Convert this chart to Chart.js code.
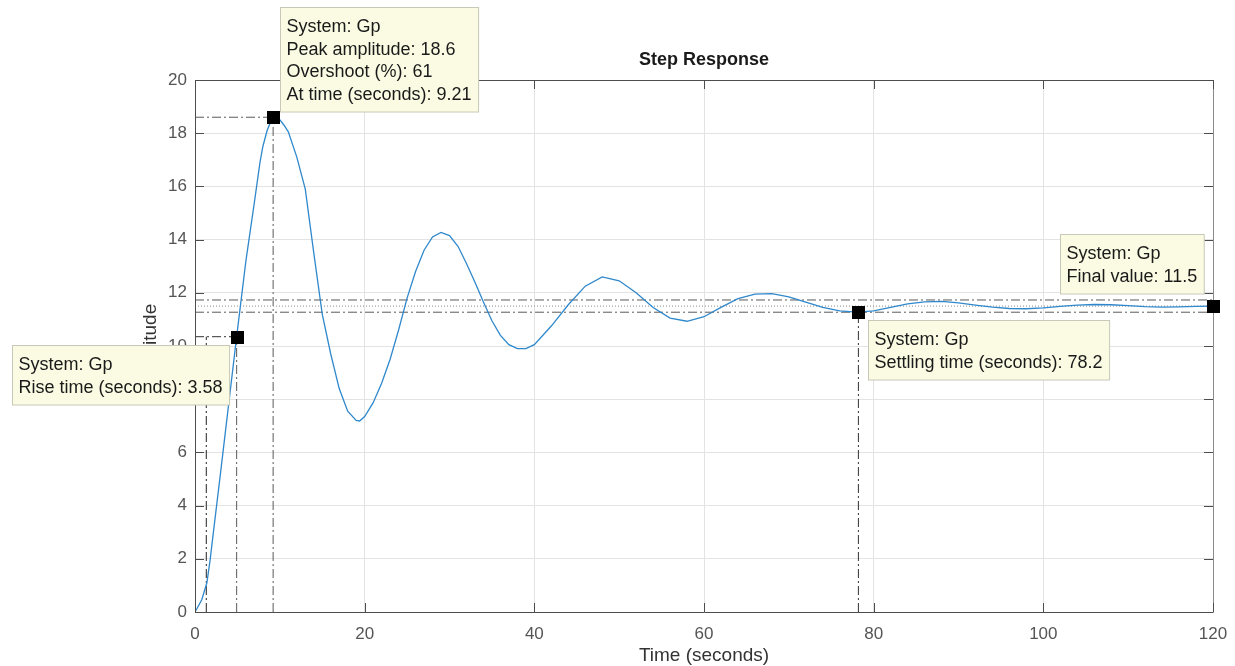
<!DOCTYPE html>
<html>
<head>
<meta charset="utf-8">
<script src="https://cdn.jsdelivr.net/npm/chart.js@4.4.1/dist/chart.umd.min.js"></script>
<style>
  html, body { margin: 0; padding: 0; background: #fff; }
  #wrap { width: 1235px; height: 666px; }
</style>
</head>
<body>
<div id="wrap"><canvas id="myChart" width="1235" height="666"></canvas></div>
<script>
// step response
const timeSec = [0, 0.8, 1.4, 1.8, 2, 3, 4, 4.91, 6, 7, 7.66, 8, 8.5, 9, 9.21, 10, 10.5, 11, 12, 13, 14, 15, 16, 17, 18, 19, 19.4, 20,
  21, 22, 23, 24, 25, 26, 27, 28, 29, 30, 31, 32, 33, 34, 35, 36, 37, 38, 39, 40,
  42, 44, 46, 48, 50, 52, 54, 56, 58, 60, 62, 64, 66, 68, 70, 72, 74, 76, 78, 80,
  82, 84, 86, 88, 90, 92, 94, 96, 98, 100, 102, 104, 106, 108, 110, 112, 114, 116, 118, 120];
const amplitude = [0, 0.46, 1.1, 2.0, 2.55, 5.2, 7.9, 10.35, 13.2, 15.4, 16.9, 17.5, 18.1, 18.5, 18.6, 18.5, 18.3, 18.05, 17.1, 15.9, 13.5, 11.2, 9.7, 8.4, 7.55, 7.2, 7.18, 7.35,
  7.87, 8.6, 9.5, 10.6, 11.8, 12.8, 13.6, 14.1, 14.27, 14.15, 13.75, 13.1, 12.4, 11.65, 10.95, 10.4, 10.05, 9.9, 9.9, 10.05,
  10.75, 11.55, 12.25, 12.6, 12.45, 12.0, 11.45, 11.05, 10.93, 11.1, 11.45, 11.78, 11.95, 11.97, 11.85, 11.65, 11.45, 11.32, 11.27, 11.32,
  11.45, 11.58, 11.66, 11.68, 11.62, 11.54, 11.46, 11.41, 11.40, 11.43, 11.49, 11.54, 11.56, 11.55, 11.52, 11.48, 11.46, 11.47, 11.49, 11.5];

// characteristic points: rise (90%), peak, settling, final
const markerTime = [4.91, 9.21, 78.2, 120];
const markerValue = [10.35, 18.6, 11.27, 11.5];
const riseStart = 1.33;
const finalValue = 11.5;
const bandUpper = 11.73;
const bandLower = 11.27;

const xTicks = [0, 20, 40, 60, 80, 100, 120];
const yTicks = [0, 2, 4, 6, 8, 10, 12, 14, 16, 18, 20];

const noteLines = [
  ["System: Gp", "Rise time (seconds): 3.58"],
  ["System: Gp", "Peak amplitude: 18.6", "Overshoot (%): 61", "At time (seconds): 9.21"],
  ["System: Gp", "Settling time (seconds): 78.2"],
  ["System: Gp", "Final value: 11.5"]
];

const FONT = "'Liberation Sans', Arial, Helvetica, sans-serif";
Chart.defaults.font.family = FONT;

function seg(x1, y1, x2, y2) { return [{x: x1, y: y1}, {x: x2, y: y2}]; }
const dashDot = [9, 3, 2, 3];

function refLine(data, color, dash) {
  return { data: data, showLine: true, borderColor: color, borderWidth: 1, borderDash: dash,
    pointRadius: 0, fill: false, clip: false, order: 2 };
}

const curve = timeSec.map((t, i) => ({x: t, y: amplitude[i]}));

const notePlugin = {
  id: "matlabDecor",
  afterDraw(chart) {
    const ctx = chart.ctx;
    const a = chart.chartArea;
    const xs = chart.scales.x, ys = chart.scales.y;
    ctx.save();

    // axes box
    ctx.strokeStyle = "#4d4d4d";
    ctx.lineWidth = 1;
    ctx.beginPath();
    ctx.moveTo(a.left + 0.5, a.top + 0.5);
    ctx.lineTo(a.left + 0.5, a.bottom + 0.5);
    ctx.lineTo(a.right + 0.5, a.bottom + 0.5);
    ctx.moveTo(a.left + 0.5, a.top + 0.5);
    ctx.lineTo(a.right + 0.5, a.top + 0.5);
    ctx.stroke();
    ctx.strokeStyle = "#8a8a8a";
    ctx.beginPath();
    ctx.moveTo(a.right + 0.5, a.top + 0.5);
    ctx.lineTo(a.right + 0.5, a.bottom + 0.5);
    ctx.stroke();

    // inward tick marks
    ctx.strokeStyle = "#4d4d4d";
    ctx.beginPath();
    xTicks.forEach(v => {
      const px = Math.round(xs.getPixelForValue(v)) + 0.5;
      ctx.moveTo(px, a.bottom); ctx.lineTo(px, a.bottom - 9);
      ctx.moveTo(px, a.top); ctx.lineTo(px, a.top + 9);
    });
    yTicks.forEach(v => {
      const py = Math.round(ys.getPixelForValue(v)) + 0.5;
      ctx.moveTo(a.left, py); ctx.lineTo(a.left + 9, py);
      ctx.moveTo(a.right, py); ctx.lineTo(a.right - 9, py);
    });
    ctx.stroke();

    // markers on top of everything in the axes
    ctx.fillStyle = "#000";
    markerTime.forEach((t, i) => {
      const mx = xs.getPixelForValue(t), my = ys.getPixelForValue(markerValue[i]);
      ctx.fillRect(Math.round(mx) - 6, Math.round(my) - 6, 13, 13);
    });

    // title and axis labels
    const cx = (a.left + a.right) / 2;
    ctx.fillStyle = "#1a1a1a";
    ctx.textAlign = "center";
    ctx.textBaseline = "middle";
    ctx.font = "bold 18px " + FONT;
    ctx.fillText("Step Response", cx, a.top - 20);
    ctx.fillStyle = "#333";
    ctx.font = "19px " + FONT;
    ctx.fillText("Time (seconds)", cx, a.bottom + 44);
    ctx.save();
    ctx.translate(a.left - 44, (a.top + a.bottom) / 2);
    ctx.rotate(-Math.PI / 2);
    ctx.fillText("Amplitude", 0, 0);
    ctx.restore();

    // data tips, anchored to the markers
    const place = [
      {dx: -8, dy: 8, ax: "right", ay: "top"},
      {dx: 7, dy: -6, ax: "left", ay: "bottom"},
      {dx: 10, dy: 8, ax: "left", ay: "top"},
      {dx: -9, dy: -13, ax: "right", ay: "bottom"}
    ];
    ctx.font = "18px " + FONT;
    ctx.textAlign = "left";
    noteLines.forEach((lines, i) => {
      const mx = xs.getPixelForValue(markerTime[i]);
      const my = ys.getPixelForValue(markerValue[i]);
      const w = Math.max(...lines.map(s => ctx.measureText(s).width)) + 13;
      const h = 20 + (lines.length - 1) * 22.5 + 17;
      const p = place[i];
      let bx = mx + p.dx, by = my + p.dy;
      if (p.ax === "right") bx -= w;
      if (p.ay === "bottom") by -= h;
      bx = Math.round(bx) + 0.5; by = Math.round(by) + 0.5;
      ctx.fillStyle = "#fbfbe3";
      ctx.fillRect(bx, by, w, h);
      ctx.strokeStyle = "#c8c8b8";
      ctx.strokeRect(bx, by, w, h);
      ctx.fillStyle = "#1a1a1a";
      lines.forEach((s, k) => ctx.fillText(s, bx + 6, by + 20 + k * 22.5));
    });
    ctx.restore();
  }
};

new Chart(document.getElementById("myChart"), {
  type: "scatter",
  data: {
    datasets: [
      refLine(seg(0, bandUpper, 120, bandUpper), "#5a5a5a", dashDot),
      refLine(seg(0, bandLower, 120, bandLower), "#5a5a5a", dashDot),
      refLine(seg(0, finalValue, 120, finalValue), "#8a8a8a", [1, 2]),
      refLine(seg(0, markerValue[0], markerTime[0], markerValue[0]), "#333", dashDot),
      refLine(seg(riseStart, 0, riseStart, markerValue[0]), "#222", dashDot),
      refLine(seg(markerTime[0], 0, markerTime[0], markerValue[0]), "#5a5a5a", dashDot),
      refLine(seg(0, markerValue[1], markerTime[1], markerValue[1]), "#5a5a5a", dashDot),
      refLine(seg(markerTime[1], 0, markerTime[1], markerValue[1]), "#5a5a5a", dashDot),
      refLine(seg(markerTime[2], 0, markerTime[2], markerValue[2]), "#333", dashDot),
      {
        data: curve, showLine: true, borderColor: "#2f88cc", borderWidth: 1.3,
        pointRadius: 0, tension: 0, fill: false, order: 1
      }
    ]
  },
  options: {
    responsive: false,
    animation: false,
    devicePixelRatio: 1,
    layout: { padding: { left: 0, top: 80, right: 22, bottom: 0 } },
    plugins: { legend: { display: false }, tooltip: { enabled: false }, title: { display: false } },
    scales: {
      x: {
        type: "linear", min: 0, max: 120,
        afterFit(s) { s.height = 54; s.paddingLeft = 0; s.paddingRight = 0; },
        afterBuildTicks(s) { s.ticks = xTicks.map(v => ({value: v})); },
        grid: { color: "#e3e3e3", drawTicks: false },
        border: { display: false },
        ticks: { color: "#555", font: { size: 17 }, padding: 12, maxRotation: 0 }
      },
      y: {
        type: "linear", min: 0, max: 20,
        afterFit(s) { s.width = 195; s.paddingTop = 0; s.paddingBottom = 0; },
        afterBuildTicks(s) { s.ticks = yTicks.map(v => ({value: v})); },
        grid: { color: "#e3e3e3", drawTicks: false },
        border: { display: false },
        ticks: { color: "#555", font: { size: 17 }, padding: 8 }
      }
    }
  },
  plugins: [notePlugin]
});
</script>
</body>
</html>
